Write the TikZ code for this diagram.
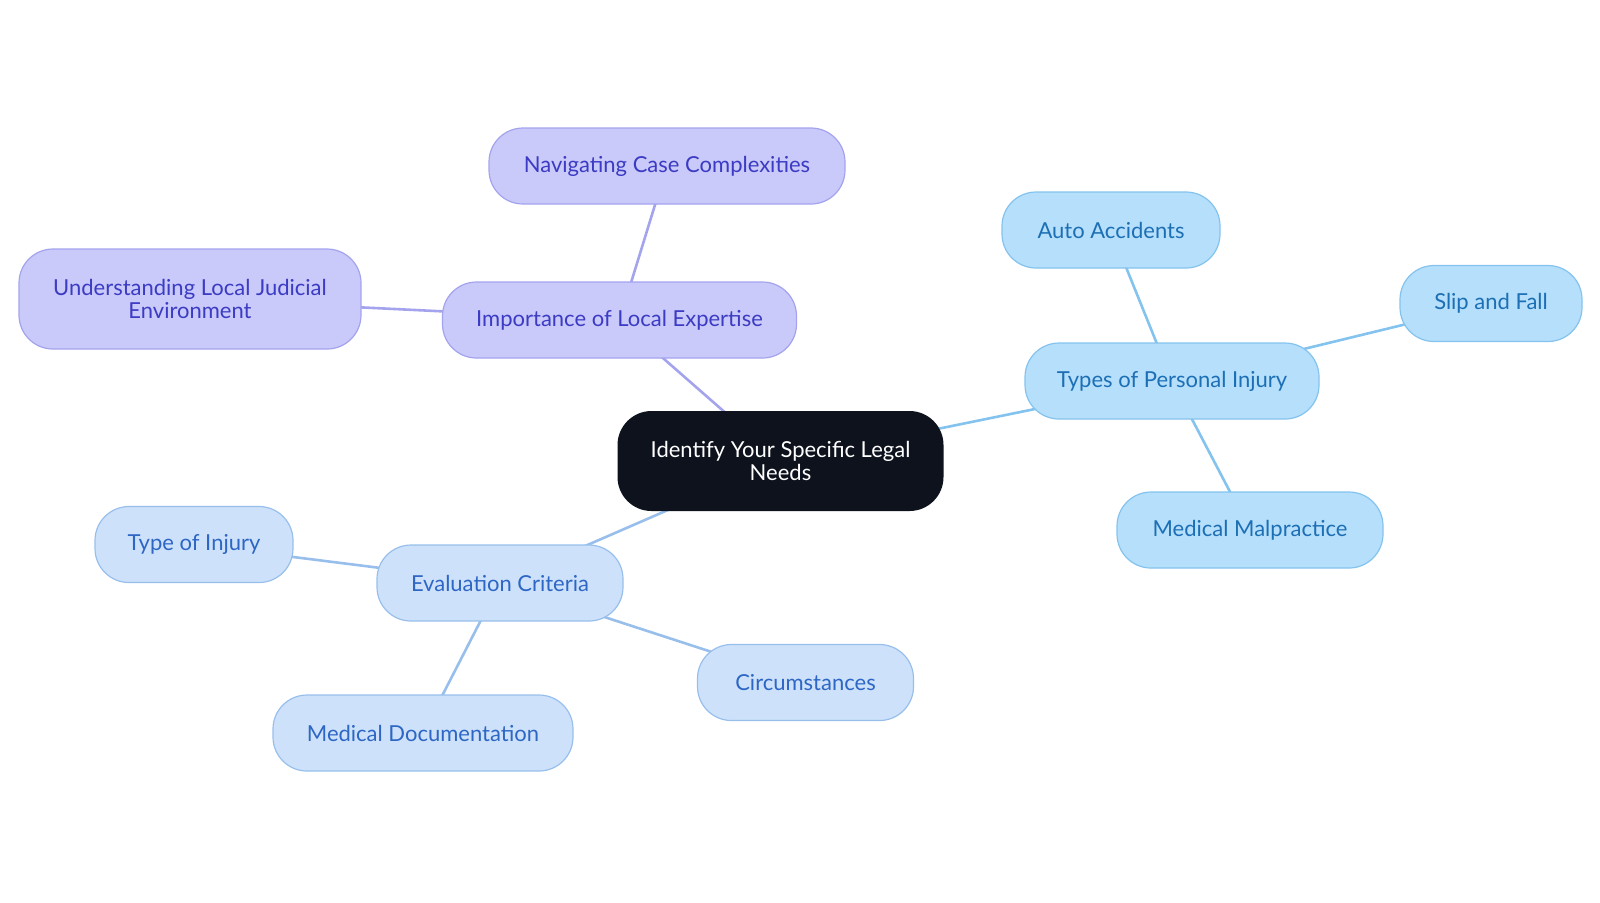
\documentclass[tikz,border=0pt]{standalone}
\usepackage{fontspec}
\setmainfont{Lato}
\usetikzlibrary{backgrounds}
\definecolor{purfill}{HTML}{C9C9FA}
\definecolor{purline}{HTML}{A3A3EE}
\definecolor{purtext}{HTML}{3B3BC4}
\definecolor{bluefill}{HTML}{B5DFFB}
\definecolor{blueline}{HTML}{84C3EE}
\definecolor{bluetext}{HTML}{1D6FB5}
\definecolor{lbfill}{HTML}{CDE2FA}
\definecolor{lbline}{HTML}{98BFEC}
\definecolor{lbtext}{HTML}{2D66C4}
\definecolor{rootfill}{HTML}{0D121C}

\begin{document}
\begin{tikzpicture}[x=0.5pt, y=-0.5pt, font=\fontsize{11}{11.5}\selectfont]
  \tikzset{
    box/.style={rounded corners=17pt, minimum height=38pt, align=center, line width=0.6pt},
    purbox/.style={box, fill=purfill, draw=purline, text=purtext},
    bluebox/.style={box, fill=bluefill, draw=blueline, text=bluetext},
    lbbox/.style={box, fill=lbfill, draw=lbline, text=lbtext},
    link/.style={line width=1.3pt}
  }
  \useasboundingbox (0,0) rectangle (1600,902);

  % Midden
  \node[box, fill=rootfill, text=white, minimum width=163pt, minimum height=50pt] (root) at (780.5,461)
    {Identify Your Specific Legal\\Needs};

  % Lokale expertise
  \node[purbox, minimum width=177pt] (local) at (619.5,320) {Importance of Local Expertise};
  \node[purbox, minimum width=178pt] (navig) at (667,166) {Navigating Case Complexities};
  \node[purbox, minimum width=171pt, minimum height=50pt] (judic) at (190,299)
    {Understanding Local Judicial\\Environment};

  % Soorten letsel
  \node[bluebox, minimum width=147pt] (types) at (1172,381) {Types of Personal Injury};
  \node[bluebox, minimum width=109pt] (auto) at (1111,230) {Auto Accidents};
  \node[bluebox, minimum width=91pt] (slip) at (1491,303.5) {Slip and Fall};
  \node[bluebox, minimum width=133pt] (malpr) at (1250,530) {Medical Malpractice};

  % Criteria
  \node[lbbox, minimum width=123pt] (crit) at (500,583) {Evaluation Criteria};
  \node[lbbox, minimum width=99pt] (injury) at (194,544.5) {Type of Injury};
  \node[lbbox, minimum width=108pt] (circ) at (805.5,682.5) {Circumstances};
  \node[lbbox, minimum width=150pt] (docu) at (423,733) {Medical Documentation};

  % Verbindingen
  \begin{scope}[on background layer]
    \draw[link, purline] (root.center) -- (local.center);
    \draw[link, purline] (local.center) -- (navig.center);
    \draw[link, purline] (local.center) -- (judic.center);
    \draw[link, blueline] (root.center) -- (types.center);
    \draw[link, blueline] (types.center) -- (auto.center);
    \draw[link, blueline] (types.center) -- (slip.center);
    \draw[link, blueline] (types.center) -- (malpr.center);
    \draw[link, lbline] (root.center) -- (crit.center);
    \draw[link, lbline] (crit.center) -- (injury.center);
    \draw[link, lbline] (crit.center) -- (circ.center);
    \draw[link, lbline] (crit.center) -- (docu.center);
  \end{scope}
\end{tikzpicture}
\end{document}
